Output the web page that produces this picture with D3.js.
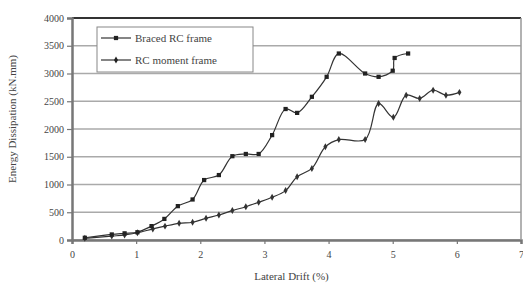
<!DOCTYPE html>
<html>
<head>
<meta charset="utf-8">
<script src="https://cdn.jsdelivr.net/npm/d3@7"></script>
<style>
  body { margin: 0; background: #fff; }
  text { font-family: "Liberation Serif", "DejaVu Serif", serif; fill: #444; }
</style>
</head>
<body>
<div id="chart"></div>
<script>
// Energy dissipation vs lateral drift

// data
let bracedDrift  = [0.2, 0.62, 0.82, 1.02, 1.24, 1.44, 1.65, 1.88, 2.06, 2.29, 2.5, 2.71, 2.91, 3.12, 3.33, 3.51, 3.74, 3.97, 4.16, 4.57, 4.78, 5.0, 5.03, 5.24];
let bracedEnergy = [40, 100, 120, 140, 250, 380, 610, 730, 1080, 1170, 1510, 1550, 1550, 1890, 2360, 2290, 2580, 2940, 3360, 3000, 2940, 3050, 3280, 3360];
let rcDrift  = [0.2, 0.62, 0.82, 1.02, 1.26, 1.45, 1.67, 1.88, 2.09, 2.29, 2.5, 2.71, 2.91, 3.12, 3.33, 3.51, 3.74, 3.95, 4.16, 4.57, 4.78, 5.01, 5.21, 5.42, 5.63, 5.83, 6.04];
let rcEnergy = [30, 70, 90, 130, 200, 250, 300, 320, 390, 450, 530, 600, 680, 770, 890, 1140, 1290, 1680, 1810, 1810, 2460, 2210, 2610, 2550, 2700, 2610, 2660];
let xTicks = [0, 1, 2, 3, 4, 5, 6, 7];
let yTicks = [0, 500, 1000, 1500, 2000, 2500, 3000, 3500, 4000];
let seriesNames = ['Braced RC frame', 'RC moment frame'];

let margin = {top: 18, right: 2, bottom: 47, left: 72};
let width = 523 - margin.left - margin.right;
let height = 287 - margin.top - margin.bottom;

let xScale = d3.scaleLinear().domain([0, 7]).range([0, width]);
let yScale = d3.scaleLinear().domain([0, 4000]).range([height, 0]);

let svg = d3.select('#chart')
  .append('svg')
  .attr('width', 523)
  .attr('height', 287)
  .append('g')
  .attr('transform', 'translate(' + margin.left + ',' + margin.top + ')');

// grid lines
svg.selectAll('.grid')
  .data(yTicks)
  .enter().append('line')
  .attr('x1', 0)
  .attr('x2', width)
  .attr('y1', d => yScale(d))
  .attr('y2', d => yScale(d))
  .attr('stroke', d => d == 4000 ? '#333' : '#aaa')
  .attr('stroke-width', d => d == 4000 ? 2 : 1.5);

// axes
let xAxis = d3.axisBottom(xScale).tickValues(xTicks).tickSize(4).tickFormat(d3.format('d'));
let yAxis = d3.axisLeft(yScale).tickValues(yTicks).tickSize(5).tickFormat(d3.format('d'));

let gx = svg.append('g')
  .attr('transform', 'translate(0,' + height + ')')
  .call(xAxis);
let gy = svg.append('g').call(yAxis);

[gx, gy].forEach(function(g) {
  g.select('.domain').attr('stroke', '#777').attr('stroke-width', 2.5);
  g.selectAll('.tick line').attr('stroke', '#777').attr('stroke-width', 1.2);
  g.selectAll('.tick text').style('font-size', '10px').attr('fill', '#555');
});
gx.selectAll('.tick text').attr('dy', '1.1em');

// right border
svg.append('line')
  .attr('x1', width).attr('x2', width)
  .attr('y1', 0).attr('y2', height)
  .attr('stroke', '#999').attr('stroke-width', 1.5);

// axis titles
svg.append('text')
  .attr('x', width / 2 - 5)
  .attr('y', height + 40)
  .attr('text-anchor', 'middle')
  .style('font-size', '11px')
  .text('Lateral Drift (%)');
svg.append('text')
  .attr('transform', 'rotate(-90)')
  .attr('x', -height / 2 + 10)
  .attr('y', -56)
  .attr('text-anchor', 'middle')
  .style('font-size', '11px')
  .text('Energy Dissipation (kN.mm)');

let line = d3.line()
  .x(d => xScale(d[0]))
  .y(d => yScale(d[1]))
  .curve(d3.curveCatmullRom.alpha(0.5));

let braced = d3.zip(bracedDrift, bracedEnergy);
let rc = d3.zip(rcDrift, rcEnergy);

svg.append('path')
  .datum(rc)
  .attr('d', line)
  .attr('fill', 'none')
  .attr('stroke', '#333')
  .attr('stroke-width', 1.2);
svg.append('path')
  .datum(braced)
  .attr('d', line)
  .attr('fill', 'none')
  .attr('stroke', '#333')
  .attr('stroke-width', 1.2);

// markers
svg.selectAll('.rcdot')
  .data(rc)
  .enter().append('path')
  .attr('d', d3.symbol().type(d3.symbolDiamond).size(14))
  .attr('transform', d => 'translate(' + xScale(d[0]) + ',' + yScale(d[1]) + ')')
  .attr('fill', '#333');
svg.selectAll('.bdot')
  .data(braced)
  .enter().append('path')
  .attr('d', d3.symbol().type(d3.symbolSquare).size(18))
  .attr('transform', d => 'translate(' + xScale(d[0]) + ',' + yScale(d[1]) + ')')
  .attr('fill', '#222');

// legend
let legend = svg.append('g').attr('transform', 'translate(' + (97 - margin.left) + ',' + (27 - margin.top) + ')');
legend.append('rect')
  .attr('width', 156)
  .attr('height', 45)
  .attr('fill', '#fff')
  .attr('stroke', '#888')
  .attr('stroke-width', 1);
seriesNames.forEach(function(name, i) {
  let y = 11 + i * 22;
  legend.append('line')
    .attr('x1', 4).attr('x2', 34)
    .attr('y1', y).attr('y2', y)
    .attr('stroke', '#333').attr('stroke-width', 1.2);
  legend.append('path')
    .attr('d', d3.symbol().type(i == 0 ? d3.symbolSquare : d3.symbolDiamond).size(i == 0 ? 18 : 14))
    .attr('transform', 'translate(19,' + y + ')')
    .attr('fill', '#222');
  legend.append('text')
    .attr('x', 38)
    .attr('y', y + 4)
    .style('font-size', '11px')
    .text(name);
});
</script>
</body>
</html>
